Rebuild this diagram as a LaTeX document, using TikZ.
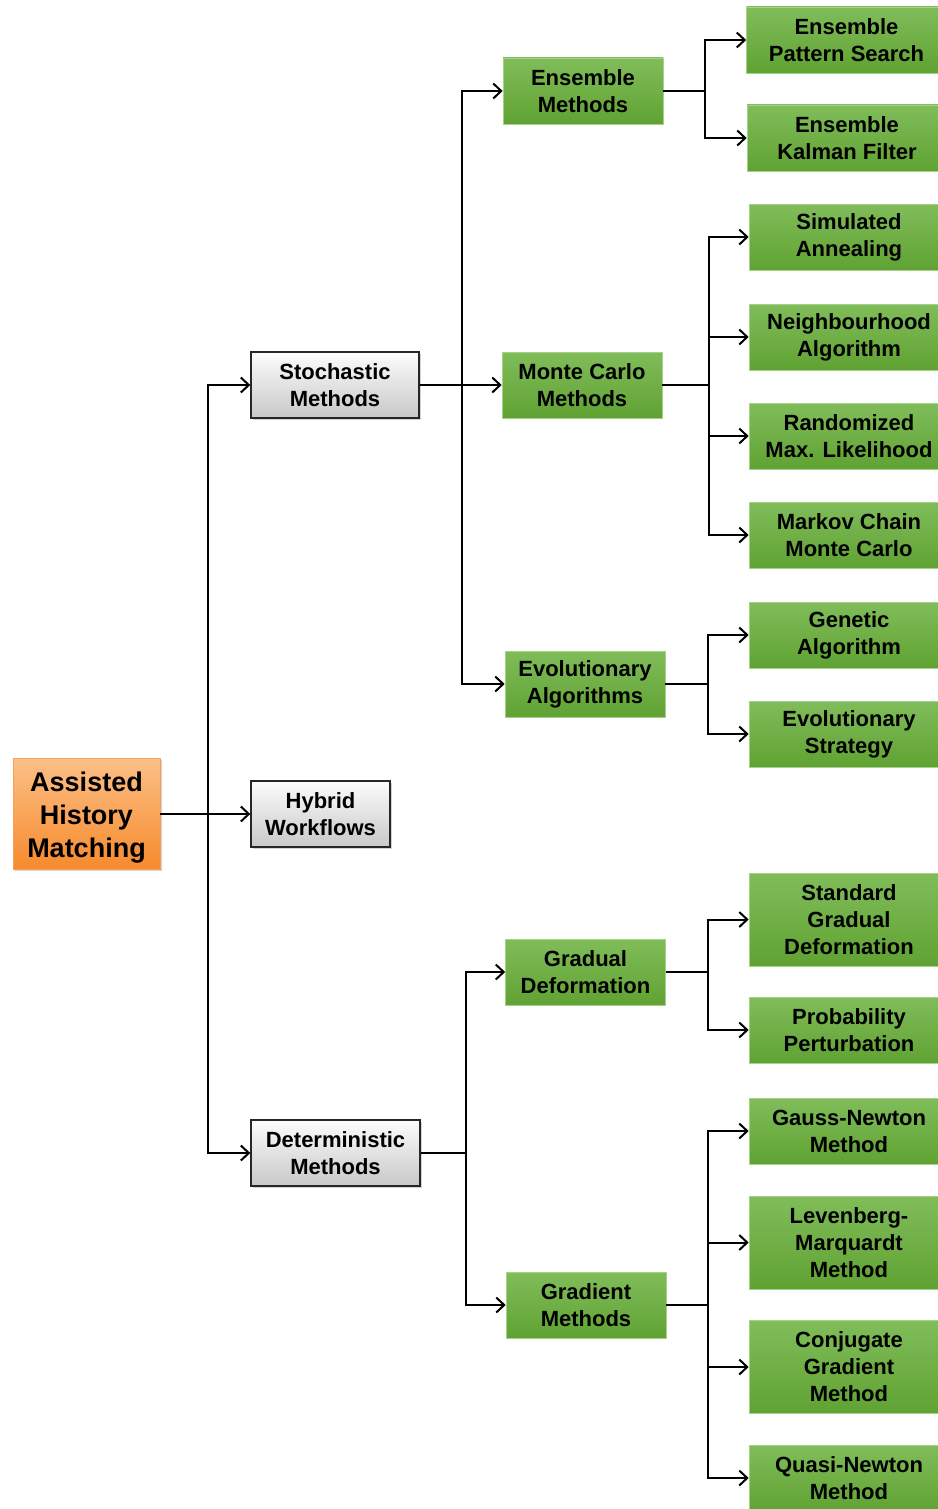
\documentclass[tikz,border=0pt]{standalone}
\usepackage{fontspec}
\setmainfont{Liberation Sans}
\usetikzlibrary{arrows.meta,shadows}
\definecolor{gtop}{RGB}{128,189,90}
\definecolor{gbot}{RGB}{96,162,50}
\definecolor{otop}{RGB}{252,192,135}
\definecolor{obot}{RGB}{246,138,45}
\definecolor{oborder}{RGB}{247,160,90}
\definecolor{ytop}{RGB}{252,252,252}
\definecolor{ybot}{RGB}{200,200,200}
\tikzset{
  base/.style={rectangle,align=center,inner sep=0pt,font=\bfseries\fontsize{22}{27}\selectfont},
  greenbox/.style={base,top color=gtop,bottom color=gbot,draw=gtop!70!white,line width=0.6pt,minimum height=66pt},
  graybox/.style={base,top color=ytop,bottom color=ybot,draw=black!85,line width=1.4pt,minimum height=66pt,
    drop shadow={shadow xshift=2pt,shadow yshift=-2pt,opacity=0.35}},
  rootbox/.style={base,top color=otop,bottom color=obot,draw=oborder,line width=0.8pt,
    font=\bfseries\fontsize{27}{33}\selectfont,minimum width=147pt,minimum height=111pt,
    drop shadow={shadow xshift=2pt,shadow yshift=-2pt,opacity=0.35}},
  leaf/.style={greenbox,minimum width=200pt},
  mid/.style={greenbox,minimum width=160pt},
  arr/.style={line width=2pt,-{Straight Barb[length=8pt,width=15pt]}}
}
\begin{document}
\begin{tikzpicture}[x=1pt,y=-1pt]
\useasboundingbox (0,0) rectangle (937,1509);
% root and level 1
\node[rootbox] (root) at (86.5,813.5) {\parbox[c][104pt][c]{140pt}{\centering\vspace*{8pt}Assisted\\History\\Matching}};
\node[graybox,minimum width=168pt] (stoch) at (335,385) {Stochastic\\Methods};
\node[graybox,minimum width=139pt] (hyb) at (320.5,814) {Hybrid\\Workflows};
\node[graybox,minimum width=169pt] (det) at (335.5,1153) {Deterministic\\Methods};
% level 2
\node[mid] (ens) at (583,91) {Ensemble\\Methods};
\node[mid] (mc) at (582,385) {Monte Carlo\\Methods};
\node[mid] (evo) at (585,684) {Evolutionary\\Algorithms};
\node[mid] (grad) at (585.5,972) {Gradual\\Deformation};
\node[mid] (gm) at (586,1305) {Gradient\\Methods};
% leaves
\node[leaf] (eps) at (846.5,40) {Ensemble\\Pattern Search};
\node[leaf] (ekf) at (847,138) {Ensemble\\Kalman Filter};
\node[leaf] (sa) at (849,237) {Simulated\\Annealing};
\node[leaf] (na) at (849,337) {Neighbourhood\\Algorithm};
\node[leaf] (rml) at (849,436) {Randomized\\Max. Likelihood};
\node[leaf] (mcmc) at (849,535) {Markov Chain\\Monte Carlo};
\node[leaf] (ga) at (849,635) {Genetic\\Algorithm};
\node[leaf] (es) at (849,734) {Evolutionary\\Strategy};
\node[leaf,minimum height=93pt] (sgd) at (849,919.5) {Standard\\Gradual\\Deformation};
\node[leaf] (pp) at (849,1030) {Probability\\Perturbation};
\node[leaf] (gn) at (849,1131) {Gauss-Newton\\Method};
\node[leaf,minimum height=93pt] (lm) at (849,1242.5) {Levenberg-\\Marquardt\\Method};
\node[leaf,minimum height=93pt] (cg) at (849,1367) {Conjugate\\Gradient\\Method};
\node[leaf] (qn) at (849,1478) {Quasi-Newton\\Method};
% connectors
\foreach \c in {stoch,hyb,det} \draw[arr] (root.east) -- ++(48,0) |- (\c.west);
\foreach \c in {ens,mc,evo} \draw[arr] (stoch.east) -- ++(42,0) |- (\c.west);
\foreach \c in {grad,gm} \draw[arr] (det.east) -- ++(45,0) |- (\c.west);
\foreach \c in {eps,ekf} \draw[arr] (ens.east) -- ++(42,0) |- (\c.west);
\foreach \c in {sa,na,rml,mcmc} \draw[arr] (mc.east) -- ++(47,0) |- (\c.west);
\foreach \c in {ga,es} \draw[arr] (evo.east) -- ++(43,0) |- (\c.west);
\foreach \c in {sgd,pp} \draw[arr] (grad.east) -- ++(42,0) |- (\c.west);
\foreach \c in {gn,lm,cg,qn} \draw[arr] (gm.east) -- ++(42,0) |- (\c.west);
\end{tikzpicture}
\end{document}
